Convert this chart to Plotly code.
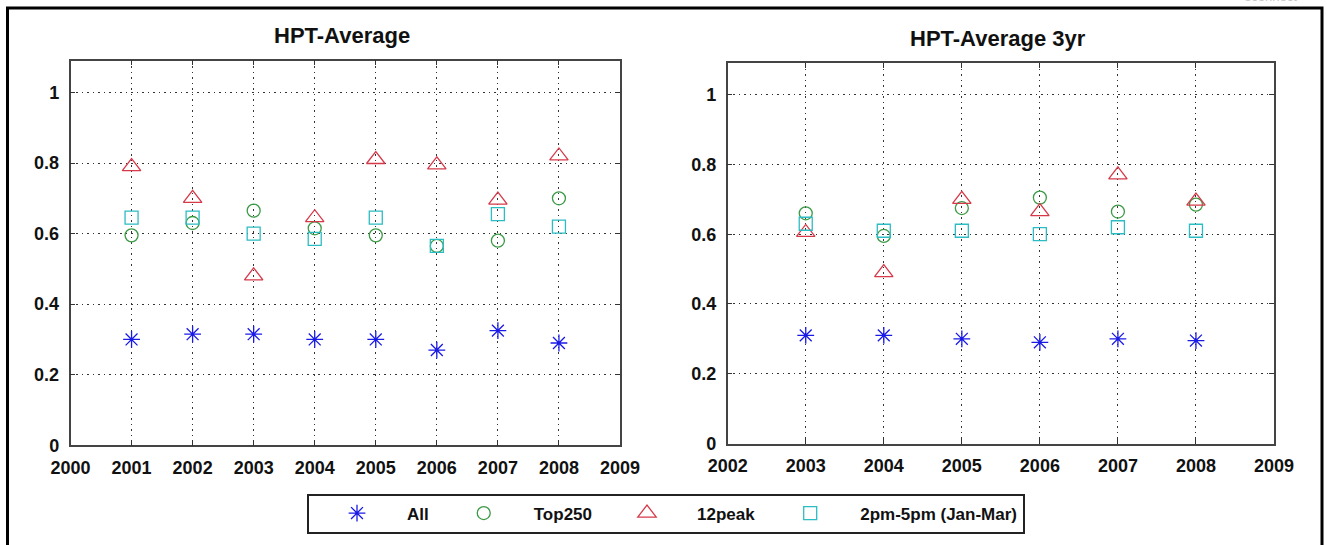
import plotly.graph_objects as go

# ---- data ----
years_left = [2001, 2002, 2003, 2004, 2005, 2006, 2007, 2008]
all_left = [0.30, 0.315, 0.315, 0.30, 0.30, 0.27, 0.325, 0.29]
top250_left = [0.595, 0.63, 0.665, 0.615, 0.595, 0.565, 0.58, 0.70]
peak12_left = [0.79, 0.70, 0.48, 0.645, 0.81, 0.795, 0.695, 0.82]
pm_left = [0.645, 0.645, 0.60, 0.585, 0.645, 0.565, 0.655, 0.62]

years_right = [2003, 2004, 2005, 2006, 2007, 2008]
all_right = [0.31, 0.31, 0.30, 0.29, 0.30, 0.295]
top250_right = [0.66, 0.595, 0.675, 0.705, 0.665, 0.685]
peak12_right = [0.605, 0.49, 0.70, 0.665, 0.77, 0.695]
pm_right = [0.63, 0.61, 0.61, 0.60, 0.62, 0.61]

series_names = ["All", "Top250", "12peak", "2pm-5pm (Jan-Mar)"]
left_ticks = list(range(2000, 2010))
right_ticks = list(range(2002, 2010))
y_ticks = [0, 0.2, 0.4, 0.6, 0.8, 1]
y_labels = ["0", "0.2", "0.4", "0.6", "0.8", "1"]
titles = ["HPT-Average", "HPT-Average 3yr"]

symbols = ["asterisk-open", "circle-open", "triangle-up-open", "square-open"]
colors = ["#1a1ae6", "#3c9a46", "#d63a4a", "#2cbcc4"]
sizes = [14, 13, 16, 13]

fig = go.Figure()
left_data = [all_left, top250_left, peak12_left, pm_left]
right_data = [all_right, top250_right, peak12_right, pm_right]
for i, name in enumerate(series_names):
    fig.add_trace(go.Scatter(
        x=years_left, y=left_data[i], mode="markers", name=name,
        marker=dict(symbol=symbols[i], color=colors[i], size=sizes[i],
                    line=dict(color=colors[i], width=1.3)),
        xaxis="x", yaxis="y", legendgroup=name, showlegend=True))
    fig.add_trace(go.Scatter(
        x=years_right, y=right_data[i], mode="markers", name=name,
        marker=dict(symbol=symbols[i], color=colors[i], size=sizes[i],
                    line=dict(color=colors[i], width=1.3)),
        xaxis="x2", yaxis="y2", legendgroup=name, showlegend=False))

W, H = 1327, 545
FONT = "Liberation Sans, Arial"
axis_font = dict(family=FONT, size=18, color="#111", weight="bold")
common = dict(showgrid=True, gridcolor="#333", griddash="1.5px,4px", gridwidth=1,
              showline=True, linecolor="#444", linewidth=1.5, mirror="ticks",
              ticks="inside", ticklen=5, tickcolor="#333",
              zeroline=False, tickfont=axis_font, fixedrange=True,
              automargin=False)

fig.update_layout(
    width=W, height=H,
    margin=dict(l=0, r=0, t=0, b=0, autoexpand=False),
    paper_bgcolor="white", plot_bgcolor="white",
    xaxis=dict(common, domain=[70.5 / W, 620 / W], range=[2000, 2009],
               tickvals=left_ticks, anchor="y", ticklabelstandoff=5),
    yaxis=dict(common, domain=[1 - 445.3 / H, 1 - 60.7 / H], range=[0, 1.09],
               tickvals=y_ticks, ticktext=y_labels, anchor="x", ticklabelstandoff=6),
    xaxis2=dict(common, domain=[727.7 / W, 1274 / W], range=[2002, 2009],
                tickvals=right_ticks, anchor="y2", ticklabelstandoff=5),
    yaxis2=dict(common, domain=[1 - 443.5 / H, 1 - 63.3 / H], range=[0, 1.09],
                tickvals=y_ticks, ticktext=y_labels, anchor="x2", ticklabelstandoff=6),
    showlegend=True,
    legend=dict(orientation="h", x=666 / W, xanchor="center",
                y=1 - 513.5 / H, yanchor="middle",
                bordercolor="#222", borderwidth=2, bgcolor="white",
                font=dict(family=FONT, size=17, color="#111", weight="bold"),
                itemwidth=90, tracegroupgap=0),
    annotations=[
        dict(text=titles[0], x=342 / W, y=1 - 35 / H, xref="paper", yref="paper",
             xanchor="center", yanchor="middle", showarrow=False,
             font=dict(family=FONT, size=22, color="#111", weight="bold")),
        dict(text=titles[1], x=998 / W, y=1 - 38 / H, xref="paper", yref="paper",
             xanchor="center", yanchor="middle", showarrow=False,
             font=dict(family=FONT, size=22, color="#111", weight="bold")),
        dict(text="econnect", x=1270 / W, y=1 - 6 / H, xref="paper", yref="paper",
             xanchor="center", yanchor="bottom", showarrow=False,
             font=dict(family=FONT, size=13, color="#c8c8c8")),
    ],
    shapes=[
        dict(type="rect", xref="paper", yref="paper",
             x0=7.5 / W, x1=1322 / W, y0=-0.05, y1=1 - 8 / H,
             line=dict(color="black", width=3), fillcolor="rgba(0,0,0,0)", layer="below"),
    ],
)

fig.write_html("out.html")
